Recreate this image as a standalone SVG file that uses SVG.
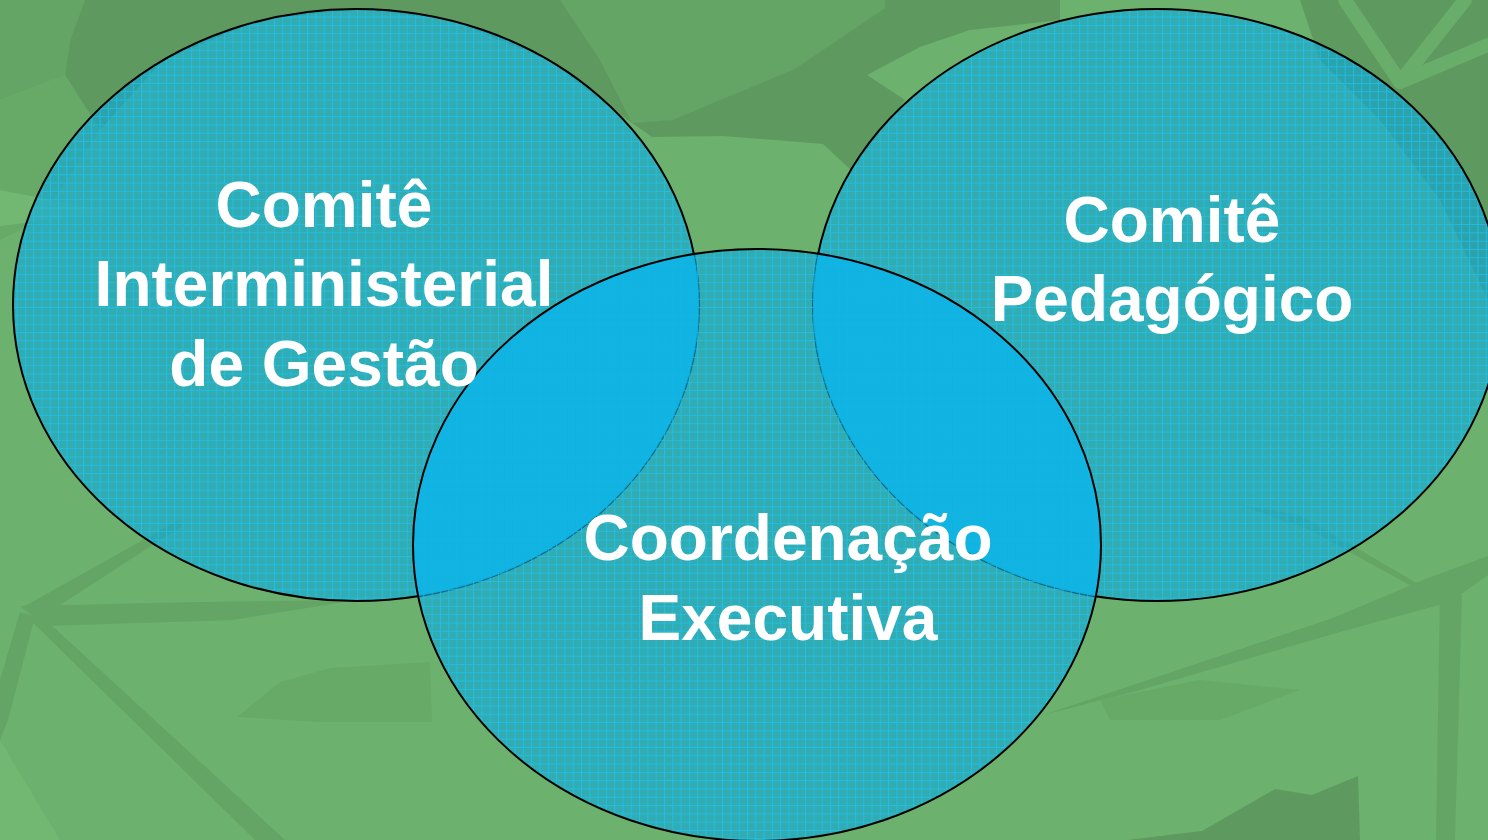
<svg xmlns="http://www.w3.org/2000/svg" width="1488" height="840" viewBox="0 0 1488 840">
<style>
  .bg0{fill:#6cb16d}
  .dk{fill:#5e9a5f}
  .md{fill:#64a565}
  .sb{fill:#67aa68}
  .lt{fill:#72b772}
  .ltl{stroke:#69ad6a;stroke-width:14;stroke-linecap:round;fill:none}
  .bubble{fill:url(#grid)}
  .outline{fill:none;stroke:#000;stroke-width:2}
  .lens{fill:#10b4e4;fill-opacity:0.88}
  .label{font-family:"Liberation Sans",Arial,Helvetica,sans-serif;font-weight:bold;font-size:64px;fill:#fff;text-anchor:middle}
</style>
<defs>
  <pattern id="grid" width="8.3" height="8.3" patternUnits="userSpaceOnUse">
    <rect width="8.3" height="8.3" fill="#08a8df" fill-opacity="0.6"/>
    <path d="M0 0.5H8.3M0.5 0V8.3" stroke="#1ec3f2" stroke-width="1" stroke-opacity="0.75"/>
  </pattern>
  <clipPath id="c1"><ellipse cx="356" cy="305" rx="343" ry="296"/></clipPath>
  <clipPath id="c2"><ellipse cx="1157" cy="305" rx="344" ry="296"/></clipPath>
</defs>

<g id="background">
  <rect class="bg0" x="0" y="0" width="1488" height="840"/>
  <polygon class="md" points="0,0 85,0 70,40 65,75 0,100"/>
  <polygon class="dk" points="85,0 885,0 793,70 720,100 673,120 632,123 600,100 549,60 450,20 356,9 260,20 163,60 100,130 65,75 70,40"/>
  <polygon class="md" points="560,0 885,0 885,8 793,70 720,100 673,120 632,123 600,60"/>
  <polygon class="sb" points="0,100 65,75 100,130 40,220 0,240"/>
  <polygon class="lt" points="0,190 113,212 0,226"/>
  <polygon class="dk" points="885,0 1060,0 1060,20 970,30 920,47 867,75 905,100 851,170 823,144 723,136 652,137 632,123 673,120 720,100 793,70 885,8"/>
  <polygon class="dk" points="1300,0 1488,0 1488,300 1440,200 1380,120 1320,60"/>
  <line class="ltl" x1="1345" y1="0" x2="1400" y2="82"/>
  <line class="ltl" x1="1465" y1="0" x2="1400" y2="82"/>
  <line class="ltl" x1="1400" y1="82" x2="1488" y2="45"/>
  <polygon class="md" points="20,606 200,602 356,600 233,620 45,626"/>
  <polygon class="md" points="22,612 48,622 285,840 255,840"/>
  <polygon class="md" points="25,606 177,521 182,526 40,618"/>
  <polygon class="md" points="20,612 34,620 8,720 0,740 0,680"/>
  <polygon class="sb" points="237,717 280,682 330,668 430,662 432,722 320,722"/>
  <polygon class="lt" points="0,740 60,840 0,840"/>
  <polygon class="md" points="1043,715 1127,687 1333,618 1423,580 1488,556 1488,575 1450,602 1340,632 1133,692"/>
  <polygon class="md" points="1420,585 1300,515 1240,505 1310,530 1440,602"/>
  <polygon class="md" points="1440,590 1462,595 1455,840 1436,840"/>
  <polygon class="sb" points="1100,700 1200,680 1300,690 1220,720 1110,720"/>
  <polygon class="dk" points="1127,840 1202,831 1275,789 1312,795 1358,776 1360,840"/>
</g>

<g id="nodes">
  <g id="comite-interministerial">
    <ellipse class="bubble" cx="356" cy="305" rx="343" ry="296"/>
    <ellipse class="outline" cx="356" cy="305" rx="343" ry="296"/>
  </g>
  <g id="comite-pedagogico">
    <ellipse class="bubble" cx="1157" cy="305" rx="344" ry="296"/>
    <ellipse class="outline" cx="1157" cy="305" rx="344" ry="296"/>
  </g>
  <g id="coordenacao-executiva">
    <ellipse class="bubble" cx="757" cy="545" rx="344" ry="296"/>
    <ellipse class="lens" cx="757" cy="545" rx="344" ry="296" clip-path="url(#c1)"/>
    <ellipse class="lens" cx="757" cy="545" rx="344" ry="296" clip-path="url(#c2)"/>
    <ellipse class="outline" cx="757" cy="545" rx="344" ry="296"/>
  </g>
</g>

<g id="connectors"></g>

<g id="labels">
  <g id="label-comite-interministerial">
    <text class="label" x="324" y="227">Comitê</text>
    <text class="label" x="324" y="306">Interministerial</text>
    <text class="label" x="324" y="386">de Gestão</text>
  </g>
  <g id="label-comite-pedagogico">
    <text class="label" x="1172" y="242">Comitê</text>
    <text class="label" x="1172" y="321">Pedagógico</text>
  </g>
  <g id="label-coordenacao-executiva">
    <text class="label" x="788" y="560">Coordenação</text>
    <text class="label" x="788" y="640">Executiva</text>
  </g>
</g>
</svg>
